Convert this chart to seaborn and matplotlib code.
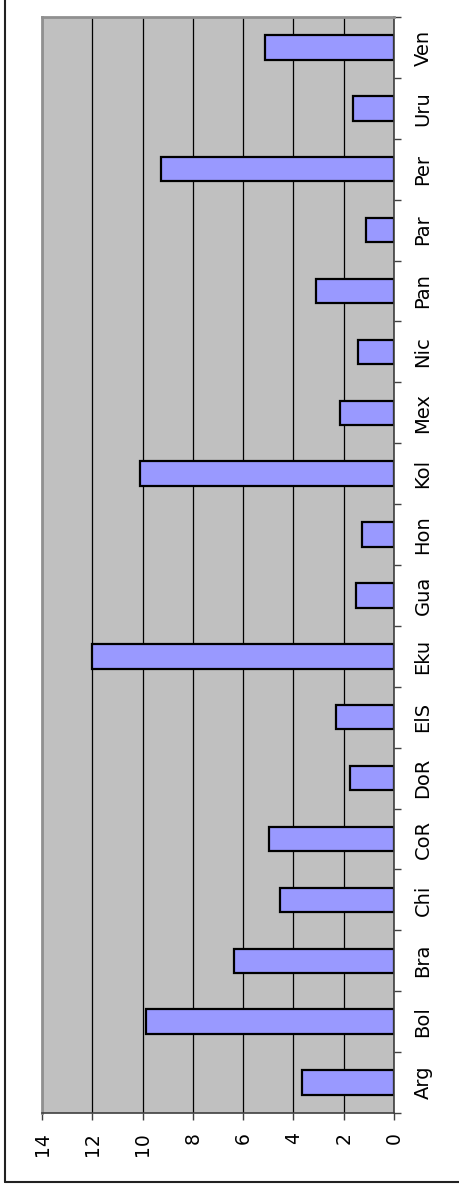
import pandas as pd
import numpy as np
import seaborn as sns
import matplotlib
matplotlib.use("Agg")
import matplotlib.pyplot as plt
from matplotlib.lines import Line2D
from matplotlib.ticker import FixedLocator

# Daten
laender = ["Arg", "Bol", "Bra", "Chi", "CoR", "DoR", "ElS", "Eku", "Gua",
           "Hon", "Kol", "Mex", "Nic", "Pan", "Par", "Per", "Uru", "Ven"]
werte = [3.65, 9.85, 6.36, 4.53, 4.99, 1.75, 2.31, 12.0, 1.50,
         1.26, 10.1, 2.13, 1.43, 3.09, 1.11, 9.28, 1.65, 5.14]
x_ticks = [0, 2, 4, 6, 8, 10, 12, 14]

df = pd.DataFrame({"Land": laender, "Wert": werte})

sns.set_style("white", {"text.color": "black", "xtick.color": "black",
                        "ytick.color": "black"})
plt.rcParams["font.family"] = ["DejaVu Sans"]

fig = plt.figure(figsize=(4.59, 11.86), dpi=100)
ax = fig.add_axes([42 / 459, 73 / 1186, 352 / 459, 1096 / 1186])
ax.set_facecolor("#C0C0C0")

# Ven oben, Arg unten
sns.barplot(data=df, x="Wert", y="Land", order=laender[::-1], orient="h",
            color="#9999FF", saturation=1, edgecolor="black", linewidth=1.6,
            width=0.4, ax=ax)

ax.set_xlim(14, 0)
ax.set_ylim(len(laender) - 0.5, -0.5)
ax.set_xticks(x_ticks)
ax.set_xticklabels([str(t) for t in x_ticks], rotation=90, fontsize=13.5)
ax.set_axisbelow(True)
ax.grid(axis="x", color="black", linewidth=0.9)
ax.grid(axis="y", visible=False)
ax.set_xlabel("")
ax.set_ylabel("")

# Kategorienachse rechts, Striche zwischen den Kategorien
ax.yaxis.tick_right()
ax.set_yticks(range(len(laender)))
ax.set_yticklabels(laender[::-1], rotation=90, fontsize=14, va="center")
ax.yaxis.set_minor_locator(FixedLocator(np.arange(-0.5, len(laender), 1.0)))
ax.tick_params(axis="y", which="major", length=0, pad=14, labelcolor="black")
ax.tick_params(axis="y", which="minor", right=True, length=5, width=1,
               color="#404040", direction="out")
ax.tick_params(axis="x", which="major", bottom=True, length=5, width=1,
               color="#404040", direction="out", pad=9, labelcolor="black")

for s in ["left", "top"]:
    ax.spines[s].set_color("#909090")
    ax.spines[s].set_linewidth(2)
for s in ["right", "bottom"]:
    ax.spines[s].set_color("#404040")
    ax.spines[s].set_linewidth(1.2)

# Rahmen links und unten
fig.add_artist(Line2D([5 / 459, 5 / 459], [4 / 1186, 1.0], color="#222222",
                      linewidth=1.5, transform=fig.transFigure))
fig.add_artist(Line2D([5 / 459, 1.0], [4 / 1186, 4 / 1186], color="#222222",
                      linewidth=1.5, transform=fig.transFigure))

plt.savefig("out.png", dpi=100)
